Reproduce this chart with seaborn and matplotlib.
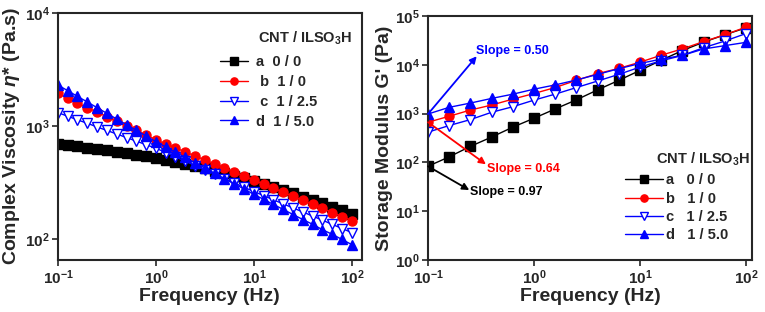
import numpy as np
import pandas as pd
import seaborn as sns
import matplotlib.pyplot as plt

# rheology of CNT / ILSO3H composites: complex viscosity and storage modulus vs frequency

sns.set_style('ticks')
plt.rcParams['font.family'] = ['Liberation Sans', 'DejaVu Sans']
plt.rcParams['font.weight'] = 'bold'
plt.rcParams['axes.labelweight'] = 'bold'
plt.rcParams['mathtext.fontset'] = 'custom'
plt.rcParams['mathtext.rm'] = 'Liberation Sans:bold'
plt.rcParams['mathtext.bf'] = 'Liberation Sans:bold'
plt.rcParams['mathtext.it'] = 'Liberation Sans:italic:bold'

# left panel: 10 points per decade
freq_left = [0.1, 0.126, 0.158, 0.2, 0.251, 0.316, 0.398, 0.501, 0.631, 0.794,
             1, 1.26, 1.58, 2.0, 2.51, 3.16, 3.98, 5.01, 6.31, 7.94,
             10, 12.6, 15.8, 20.0, 25.1, 31.6, 39.8, 50.1, 63.1, 79.4, 100]
eta_a = [698, 682, 665, 649, 631, 614, 596, 578, 560, 541,
         523, 504, 484, 465, 445, 425, 406, 386, 367, 349,
         331, 311, 292, 274, 256, 239, 224, 209, 195, 182, 169]
eta_b = [1950, 1770, 1607, 1462, 1330, 1213, 1107, 1009, 920, 836,
         759, 698, 644, 593, 547, 504, 465, 428, 394, 363,
         335, 308, 284, 261, 240, 221, 204, 188, 173, 159, 147]
eta_c = [1318, 1227, 1140, 1062, 986, 918, 855, 794, 740, 687,
         640, 586, 536, 491, 450, 412, 377, 345, 316, 289,
         265, 244, 224, 206, 190, 175, 161, 148, 136, 125, 115]
eta_d = [2312, 2061, 1837, 1637, 1459, 1300, 1159, 1033, 920, 820,
         731, 656, 590, 530, 476, 428, 384, 345, 310, 279,
         250, 226, 204, 184, 166, 150, 136, 122, 111, 100, 90]

# right panel: 5 points per decade
freq_right = [0.1, 0.158, 0.251, 0.398, 0.631, 1, 1.58, 2.51, 3.98, 6.31,
              10, 15.8, 25.1, 39.8, 63.1, 100]
G_a = [83, 129, 212, 329, 525, 800, 1236, 1906, 3048, 4786,
       7640, 12300, 19500, 29000, 41000, 57000]
G_b = [663, 877, 1178, 1489, 1972, 2570, 3404, 4786, 6550, 8400,
       11270, 15600, 21100, 29800, 41100, 58900]
G_c = [415, 566, 750, 1059, 1377, 1880, 2490, 3400, 4630, 6340,
       8930, 12000, 15500, 22300, 30500, 43500]
G_d = [977, 1337, 1637, 2037, 2490, 3150, 3850, 4860, 6340, 8280,
       10600, 13000, 15500, 21000, 24600, 28700]

labels_left = ['a  0 / 0', ' b  1 / 0', ' c  1 / 2.5', 'd  1 / 5.0']
labels_right = ['a   0 / 0', 'b   1 / 0', 'c   1 / 2.5', 'd   1 / 5.0']
legend_title = 'CNT / ILSO$_3$H'

colors = ['black', 'red', 'blue', 'blue']
markers = ['s', 'o', 'v', '^']
faces = ['black', 'red', 'white', 'blue']

x_ticks = [0.1, 1, 10, 100]
x_ticklabels = ['10$^{-1}$', '10$^{0}$', '10$^{1}$', '10$^{2}$']
yl_ticks = [100, 1000, 10000]
yl_ticklabels = ['10$^{2}$', '10$^{3}$', '10$^{4}$']
yr_ticks = [1, 10, 100, 1000, 10000, 100000]
yr_ticklabels = ['10$^{0}$', '10$^{1}$', '10$^{2}$', '10$^{3}$', '10$^{4}$', '10$^{5}$']

slopes = ['Slope = 0.50', 'Slope = 0.64', 'Slope = 0.97']

fig = plt.figure(figsize=(7.65, 3.12), dpi=100)
ax1 = fig.add_axes([0.0758, 0.167, 0.397, 0.791])
ax2 = fig.add_axes([0.5595, 0.167, 0.4235, 0.782])

left_series = [eta_a, eta_b, eta_c, eta_d]
right_series = [G_a, G_b, G_c, G_d]

for i in range(4):
    df = pd.DataFrame({'freq': freq_left, 'val': left_series[i]})
    sns.lineplot(x='freq', y='val', data=df, ax=ax1, color=colors[i], marker=markers[i],
                 markersize=6.5, markerfacecolor=faces[i], markeredgecolor=colors[i],
                 markeredgewidth=1, linewidth=1, label=labels_left[i], legend=False)
    df = pd.DataFrame({'freq': freq_right, 'val': right_series[i]})
    sns.lineplot(x='freq', y='val', data=df, ax=ax2, color=colors[i], marker=markers[i],
                 markersize=6.5, markerfacecolor=faces[i], markeredgecolor=colors[i],
                 markeredgewidth=1, linewidth=1, label=labels_right[i], legend=False)

for ax in (ax1, ax2):
    ax.set_xscale('log')
    ax.set_yscale('log')
    ax.minorticks_off()
    ax.set_xticks(x_ticks, labels=x_ticklabels)
    ax.tick_params(direction='out', length=4, width=1.2, labelsize=11, pad=2)
    for sp in ax.spines.values():
        sp.set_visible(True)
        sp.set_linewidth(1.5)
    ax.set_xlabel('Frequency (Hz)', fontsize=14, labelpad=1)

ax1.set_xlim(0.1, 126)
ax1.set_ylim(66, 10000)
ax1.set_yticks(yl_ticks, labels=yl_ticklabels)
ax1.minorticks_off()
ax1.set_ylabel('Complex Viscosity $\\eta$* (Pa.s)', fontsize=14, labelpad=2)

ax2.set_xlim(0.1, 114)
ax2.set_ylim(1, 100000)
ax2.set_yticks(yr_ticks, labels=yr_ticklabels)
ax2.minorticks_off()
ax2.set_ylabel("Storage Modulus G' (Pa)", fontsize=14, labelpad=1)

# legends with separate titles
leg1 = ax1.legend(loc='upper left', bbox_to_anchor=(0.533, 0.83), frameon=False,
                  fontsize=10.5, handlelength=1.9, handletextpad=0.6, labelspacing=0.4,
                  borderpad=0, borderaxespad=0, markerscale=0.8)
ax1.text(0.658, 0.899, legend_title, transform=ax1.transAxes, fontsize=10.5,
         fontweight='bold', va='center', ha='left')

leg2 = ax2.legend(loc='upper left', bbox_to_anchor=(0.608, 0.355), frameon=False,
                  fontsize=10.5, handlelength=2.6, handletextpad=0.2, labelspacing=0.3,
                  borderpad=0, borderaxespad=0, markerscale=0.8)
ax2.text(0.704, 0.411, legend_title, transform=ax2.transAxes, fontsize=10.5,
         fontweight='bold', va='center', ha='left')

# slope arrows from the first point of each curve
arrow_kw = dict(arrowstyle='-|>', lw=1.3, mutation_scale=10, shrinkA=0, shrinkB=0)
ax2.annotate('', xy=(0.288, 14900), xytext=(freq_right[0], G_d[0]),
             arrowprops=dict(color='blue', **arrow_kw))
ax2.text(0.283, 19000, slopes[0], color='blue', fontsize=9, fontweight='bold',
         va='center', ha='left')
ax2.annotate('', xy=(0.352, 91), xytext=(freq_right[0], G_b[0]),
             arrowprops=dict(color='red', **arrow_kw))
ax2.text(0.363, 72, slopes[1], color='red', fontsize=9, fontweight='bold',
         va='center', ha='left')
ax2.annotate('', xy=(0.245, 27), xytext=(freq_right[0], G_a[0]),
             arrowprops=dict(color='black', **arrow_kw))
ax2.text(0.249, 25, slopes[2], color='black', fontsize=9, fontweight='bold',
         va='center', ha='left')

plt.savefig('out.png', dpi=100)
